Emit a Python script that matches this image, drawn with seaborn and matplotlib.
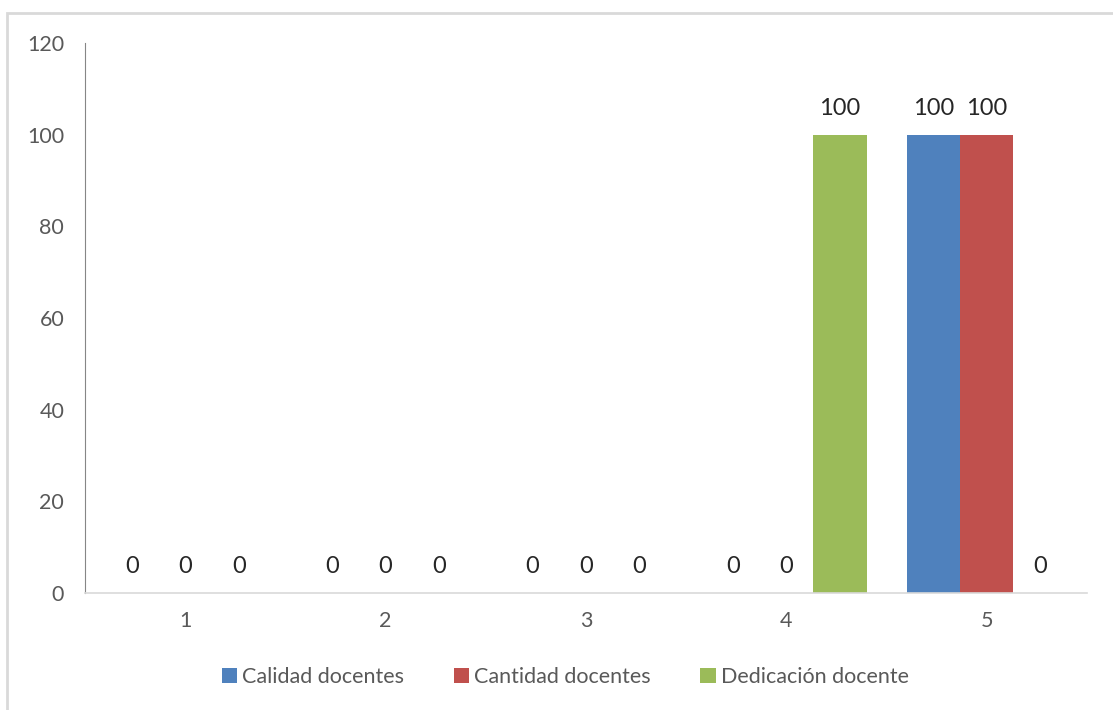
import pandas as pd
import seaborn as sns
import matplotlib.pyplot as plt
from matplotlib.patches import Rectangle

#Data
categories=['1','2','3','4','5']
series_names=['Calidad docentes','Cantidad docentes','Dedicación docente']
calidad=[0,0,0,0,100]
cantidad=[0,0,0,0,100]
dedicacion=[0,0,0,100,0]
colors=['#4F81BD','#C0504D','#9BBB59']
y_ticks=[0,20,40,60,80,100,120]

df=pd.DataFrame({'categoria':categories*3,
                 'serie':[series_names[0]]*5+[series_names[1]]*5+[series_names[2]]*5,
                 'valor':calidad+cantidad+dedicacion})

sns.set_style('white')
plt.rcParams['font.family']=['Lato','DejaVu Sans']

fig=plt.figure(figsize=(11.13,7.1),dpi=100)
ax=fig.add_axes([0.0764,0.1648,0.9002,0.7746])
sns.barplot(data=df,x='categoria',y='valor',hue='serie',order=categories,
            hue_order=series_names,palette=colors,saturation=1,width=0.8,
            linewidth=0,ax=ax,legend=True)

#Data labels
for container in ax.containers:
    for bar in container:
        h=bar.get_height()
        ax.annotate(f'{h:g}',(bar.get_x()+bar.get_width()/2,h),xytext=(0,19),
                    textcoords='offset points',ha='center',va='center',
                    fontsize=17,color='#262626')

ax.set_ylim(0,120)
ax.set_xlim(-0.5,4.5)
ax.set_yticks(y_ticks)
ax.set_xlabel('')
ax.set_ylabel('')
ax.tick_params(axis='both',length=0,labelsize=15.5,labelcolor='#595959')
ax.tick_params(axis='x',pad=13)
ax.tick_params(axis='y',pad=15)
sns.despine(ax=ax,top=True,right=True)
ax.spines['left'].set_color('#868686')
ax.spines['bottom'].set_color('#D9D9D9')
ax.spines['bottom'].set_linewidth(1.2)

handles,labels=ax.get_legend_handles_labels()
ax.legend_.remove()
fig.legend(handles,labels,loc='center',bbox_to_anchor=(0.508,0.046),ncol=3,
           frameon=False,fontsize=15.5,labelcolor='#595959',handlelength=0.7,
           handleheight=0.7,handletextpad=0.25,columnspacing=2.3)

#Chart border
fig.patches.append(Rectangle((7/1113,-0.1),1.2,1-13/710+0.1,transform=fig.transFigure,
                             fill=False,edgecolor='#D9D9D9',linewidth=2))

fig.savefig('out.png',dpi=100)
